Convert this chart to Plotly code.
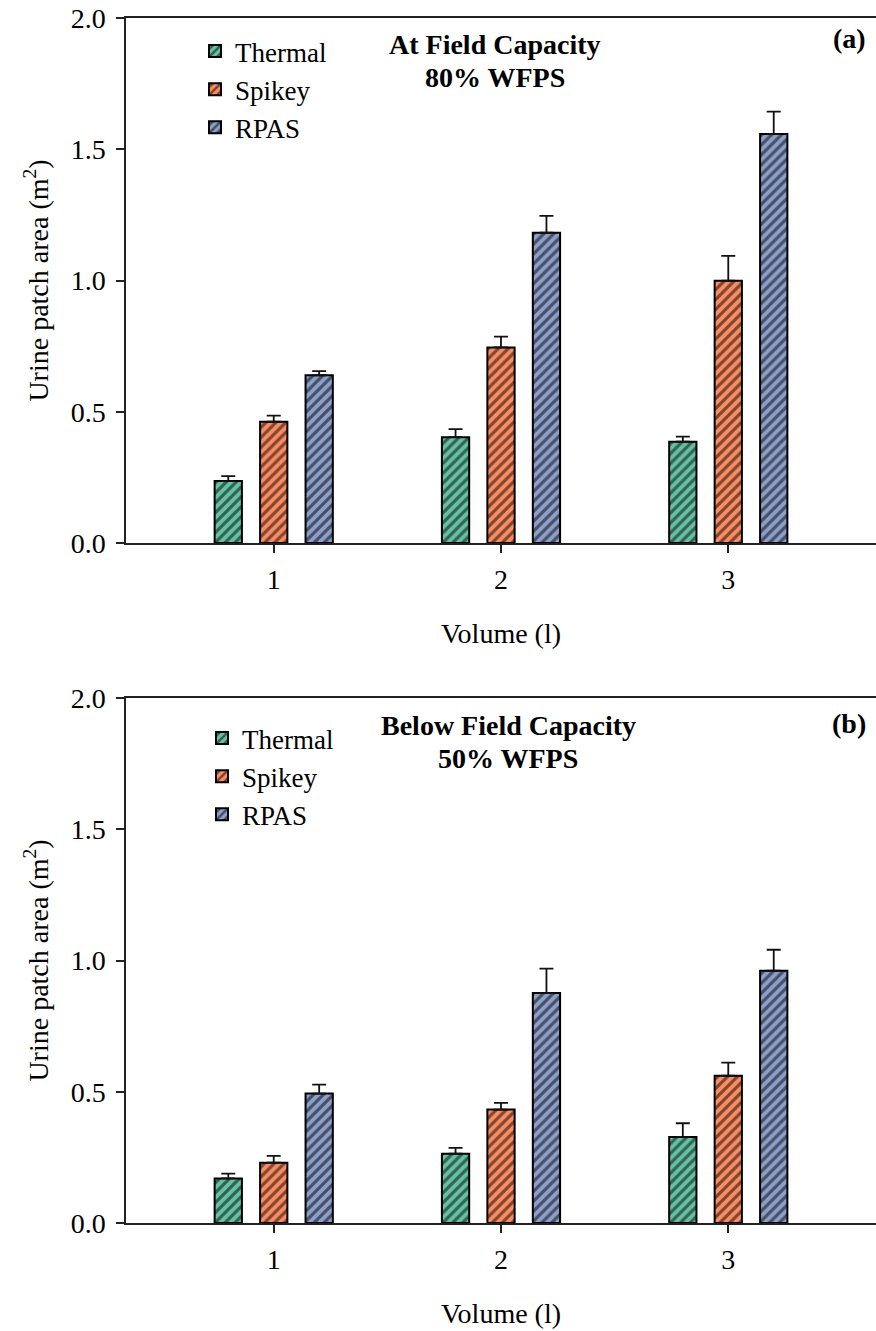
import plotly.graph_objects as go

volumes = [1, 2, 3]
series = ["Thermal", "Spikey", "RPAS"]
colors = ["#66c2a5", "#fc8d62", "#8da0cb"]

# Panel (a): At Field Capacity, 80% WFPS
a_thermal = [0.236, 0.403, 0.386]
a_thermal_err = [0.019, 0.031, 0.019]
a_spikey = [0.462, 0.745, 0.999]
a_spikey_err = [0.023, 0.041, 0.095]
a_rpas = [0.639, 1.182, 1.558]
a_rpas_err = [0.016, 0.064, 0.085]

# Panel (b): Below Field Capacity, 50% WFPS
b_thermal = [0.170, 0.264, 0.328]
b_thermal_err = [0.018, 0.022, 0.052]
b_spikey = [0.230, 0.432, 0.561]
b_spikey_err = [0.026, 0.026, 0.050]
b_rpas = [0.493, 0.876, 0.961]
b_rpas_err = [0.034, 0.093, 0.080]

y_ticks = [0.0, 0.5, 1.0, 1.5, 2.0]
x_ticks = [1, 2, 3]

FONT = "Liberation Serif"
FS = 28

fig = go.Figure()

panels = [
    ([a_thermal, a_spikey, a_rpas], [a_thermal_err, a_spikey_err, a_rpas_err], "x", "y", "legend"),
    ([b_thermal, b_spikey, b_rpas], [b_thermal_err, b_spikey_err, b_rpas_err], "x2", "y2", "legend2"),
]
offsets = [-0.26, -0.06, 0.14]
bar_w = 0.12

for vals, errs, xa, ya, lg in panels:
    for i, name in enumerate(series):
        fig.add_trace(go.Bar(
            x=volumes, y=vals[i], name=name,
            xaxis=xa, yaxis=ya, legend=lg,
            offset=offsets[i], width=bar_w,
            marker=dict(color=colors[i],
                        line=dict(color="black", width=2),
                        pattern=dict(shape="/", fgcolor="black", bgcolor=colors[i],
                                     size=7, solidity=0.45)),
            error_y=dict(type="data", array=errs[i], symmetric=False,
                         arrayminus=[0, 0, 0], color="#111111", thickness=1.8, width=7),
        ))

axis_common_x = dict(range=[0.35, 3.65], tickvals=x_ticks, ticktext=[str(v) for v in x_ticks],
                     showline=True, linecolor="#222222", linewidth=2, mirror=True,
                     ticks="outside", ticklen=8, tickwidth=1.5, tickcolor="#222222",
                     showgrid=False, zeroline=False, ticklabeloverflow="allow",
                     tickfont=dict(family=FONT, size=FS, color="black"),
                     ticklabelstandoff=2,
                     title=dict(text="Volume (l)", font=dict(family=FONT, size=FS, color="black"),
                                standoff=30))
axis_common_y = dict(range=[0, 2.0], tickvals=y_ticks, ticktext=[f"{v:.1f}" for v in y_ticks],
                     showline=True, linecolor="#222222", linewidth=1.5, mirror=False,
                     ticks="outside", ticklen=8, tickwidth=1.5, tickcolor="#222222",
                     showgrid=False, zeroline=False, ticklabeloverflow="allow",
                     tickfont=dict(family=FONT, size=FS, color="black"),
                     ticklabelstandoff=5,
                     title=dict(text="Urine patch area (m<sup>2</sup>)",
                                font=dict(family=FONT, size=FS, color="black"), standoff=14))

W, H = 876, 1331
L, T = 126, 18
B = H - 1223
H_PLOT = H - T - B  # 1205
W_PLOT = W - L      # 750


def py(px):
    return (1223 - px) / H_PLOT


def pxx(px):
    return (px - 126) / W_PLOT


fig.update_layout(
    width=W, height=H,
    margin=dict(l=L, r=0, t=T, b=B),
    paper_bgcolor="white", plot_bgcolor="white",
    font=dict(family=FONT, size=FS, color="black"),
    barmode="overlay",
    xaxis=dict(axis_common_x, domain=[0, 1], anchor="y"),
    yaxis=dict(axis_common_y, domain=[py(543), 1.0], anchor="x"),
    xaxis2=dict(axis_common_x, domain=[0, 1], anchor="y2"),
    yaxis2=dict(axis_common_y, domain=[0, py(698)], anchor="x2"),
    legend=dict(x=pxx(195), y=py(27), xanchor="left", yanchor="top",
                bgcolor="rgba(0,0,0,0)", font=dict(family=FONT, size=27, color="black"),
                traceorder="normal", itemclick=False),
    legend2=dict(x=pxx(202), y=py(714), xanchor="left", yanchor="top",
                 bgcolor="rgba(0,0,0,0)", font=dict(family=FONT, size=27, color="black"),
                 traceorder="normal", itemclick=False),
    showlegend=True,
)

anns = [
    ("<b>At Field Capacity</b>", 495, 44),
    ("<b>80% WFPS</b>", 495, 77),
    ("<b>(a)</b>", 849, 38),
    ("<b>Below Field Capacity</b>", 508, 725),
    ("<b>50% WFPS</b>", 508, 758),
    ("<b>(b)</b>", 849, 724),
]
for txt, xx, yy in anns:
    fig.add_annotation(text=txt, x=pxx(xx), y=py(yy), xref="paper", yref="paper",
                       xanchor="center", yanchor="middle", showarrow=False,
                       font=dict(family=FONT, size=FS, color="black"))

fig.write_html("out.html", config={"displayModeBar": False},
               post_script="document.body.style.margin='0';document.body.style.overflow='hidden';")
